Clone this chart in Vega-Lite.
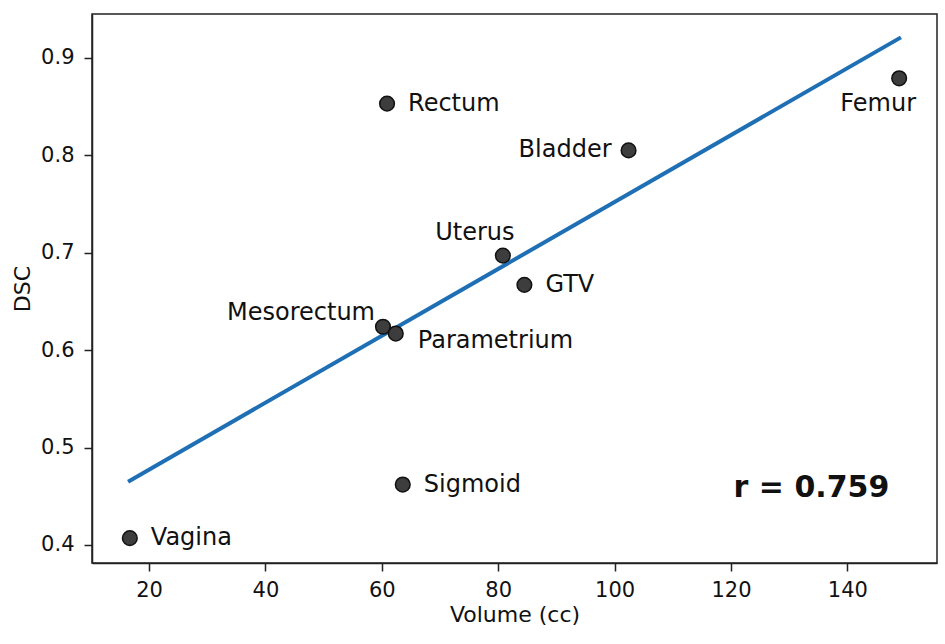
{
  "$schema": "https://vega.github.io/schema/vega-lite/v6.json",
  "width": 845,
  "height": 549,
  "autosize": "none",
  "padding": {"left": 92, "top": 14, "right": 8, "bottom": 81},
  "background": "white",
  "config": {
    "font": "DejaVu Sans",
    "view": {"stroke": "#222222", "strokeWidth": 1.5},
    "axis": {
      "grid": false,
      "domainColor": "#222222",
      "domainWidth": 1.5,
      "tickColor": "#222222",
      "tickWidth": 1.5,
      "tickSize": 8,
      "labelFont": "DejaVu Sans",
      "labelFontSize": 21,
      "labelColor": "#111111",
      "titleFont": "DejaVu Sans",
      "titleFontSize": 22,
      "titleFontWeight": "normal",
      "titleColor": "#111111"
    }
  },
  "datasets": {
    "organs": [
      {"organ": "Vagina", "volume": 16.7, "dsc": 0.407},
      {"organ": "Rectum", "volume": 60.9, "dsc": 0.853},
      {"organ": "Mesorectum", "volume": 60.2, "dsc": 0.624},
      {"organ": "Parametrium", "volume": 62.4, "dsc": 0.617},
      {"organ": "Sigmoid", "volume": 63.6, "dsc": 0.462},
      {"organ": "Uterus", "volume": 80.8, "dsc": 0.697},
      {"organ": "GTV", "volume": 84.5, "dsc": 0.667},
      {"organ": "Bladder", "volume": 102.4, "dsc": 0.805},
      {"organ": "Femur", "volume": 148.9, "dsc": 0.879}
    ],
    "fit": [
      {"volume": 16.4, "dsc": 0.465},
      {"volume": 149.2, "dsc": 0.921}
    ],
    "stat": [
      {"volume": 147.2, "dsc": 0.458, "text": "r = 0.759"}
    ]
  },
  "encoding": {
    "x": {
      "field": "volume",
      "type": "quantitative",
      "title": "Volume (cc)",
      "scale": {"domain": [10.2, 155.4], "nice": false, "zero": false},
      "axis": {"values": [20, 40, 60, 80, 100, 120, 140], "labelPadding": 8, "titlePadding": 4}
    },
    "y": {
      "field": "dsc",
      "type": "quantitative",
      "title": "DSC",
      "scale": {"domain": [0.3815, 0.945], "nice": false, "zero": false},
      "axis": {"values": [0.4, 0.5, 0.6, 0.7, 0.8, 0.9], "format": ".1f", "labelPadding": 10, "titlePadding": 6}
    }
  },
  "layer": [
    {
      "data": {"name": "fit"},
      "mark": {"type": "line", "color": "#1f6fb4", "strokeWidth": 4},
      "encoding": {}
    },
    {
      "data": {"name": "organs"},
      "mark": {"type": "point", "filled": true, "size": 215, "color": "#3d3d3d", "stroke": "#111111", "strokeWidth": 1.5, "opacity": 1}
    },
    {
      "data": {"name": "organs"},
      "transform": [{"filter": {"field": "organ", "oneOf": ["Vagina", "Rectum", "GTV", "Sigmoid"]}}],
      "mark": {"type": "text", "align": "left", "baseline": "middle", "dx": 21, "fontSize": 24, "color": "#111111"},
      "encoding": {"text": {"field": "organ"}}
    },
    {
      "data": {"name": "organs"},
      "transform": [{"filter": {"field": "organ", "equal": "Parametrium"}}],
      "mark": {"type": "text", "align": "left", "baseline": "middle", "dx": 22, "dy": 7, "fontSize": 24, "color": "#111111"},
      "encoding": {"text": {"field": "organ"}}
    },
    {
      "data": {"name": "organs"},
      "transform": [{"filter": {"field": "organ", "equal": "Bladder"}}],
      "mark": {"type": "text", "align": "right", "baseline": "middle", "dx": -17, "fontSize": 24, "color": "#111111"},
      "encoding": {"text": {"field": "organ"}}
    },
    {
      "data": {"name": "organs"},
      "transform": [{"filter": {"field": "organ", "equal": "Mesorectum"}}],
      "mark": {"type": "text", "align": "right", "baseline": "middle", "dx": -8, "dy": -14, "fontSize": 24, "color": "#111111"},
      "encoding": {"text": {"field": "organ"}}
    },
    {
      "data": {"name": "organs"},
      "transform": [{"filter": {"field": "organ", "equal": "Uterus"}}],
      "mark": {"type": "text", "align": "center", "baseline": "middle", "dx": -28, "dy": -23, "fontSize": 24, "color": "#111111"},
      "encoding": {"text": {"field": "organ"}}
    },
    {
      "data": {"name": "organs"},
      "transform": [{"filter": {"field": "organ", "equal": "Femur"}}],
      "mark": {"type": "text", "align": "center", "baseline": "middle", "dx": -21, "dy": 26, "fontSize": 24, "color": "#111111"},
      "encoding": {"text": {"field": "organ"}}
    },
    {
      "data": {"name": "stat"},
      "mark": {"type": "text", "align": "right", "baseline": "middle", "fontSize": 30, "fontWeight": "bold", "color": "#111111"},
      "encoding": {"text": {"field": "text"}}
    }
  ]
}
